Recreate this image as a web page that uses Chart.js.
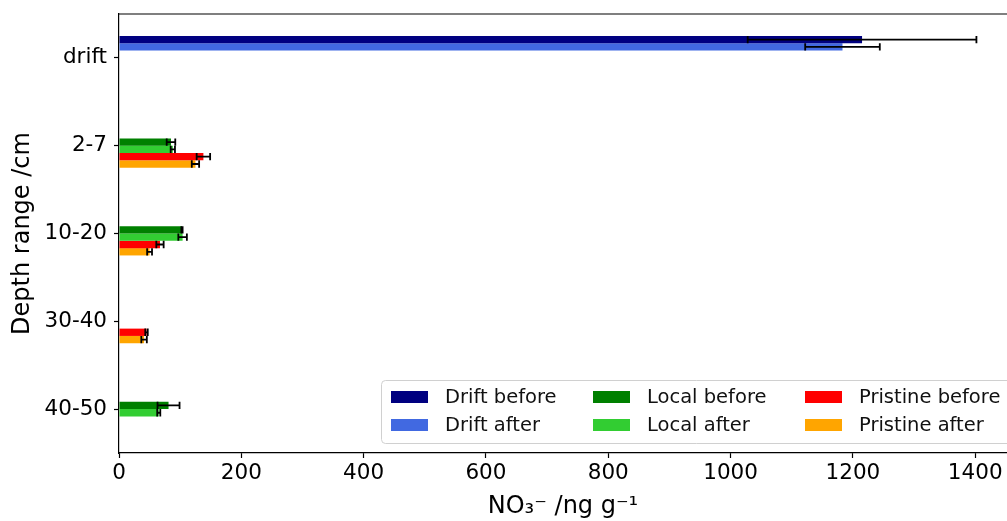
<!DOCTYPE html>
<html>
<head>
<meta charset="utf-8">
<script src="https://cdn.jsdelivr.net/npm/chart.js@4"></script>
<style>
  html, body { margin: 0; padding: 0; background: #fff; }
  #wrap { width: 1007px; height: 521px; position: relative; }
</style>
</head>
<body>
<div id="wrap"><canvas id="chart"></canvas></div>
<script>
// categorias (profundidade)
const categories = ['drift', '2-7', '10-20', '30-40', '40-50'];

// series (médias) e erros
const driftBefore = [1215, null, null, null, null];
const driftAfter = [1183, null, null, null, null];
const localBefore = [null, 85, 103, null, 81];
const localAfter = [null, 88, 104, null, 65];
const pristineBefore = [null, 138, 67, 45, null];
const pristineAfter = [null, 125, 50, 41, null];

const driftBeforeErr = [187, null, null, null, null];
const driftAfterErr = [61, null, null, null, null];
const localBeforeErr = [null, 7, 1, null, 18];
const localAfterErr = [null, 3.5, 7, null, 2.5];
const pristineBeforeErr = [null, 11, 6, 2, null];
const pristineAfterErr = [null, 6, 4, 4.5, null];

const xTicks = [0, 200, 400, 600, 800, 1000, 1200, 1400];

const FONT = "'DejaVu Sans', sans-serif";

const series = [
    { label: 'Drift before', data: driftBefore, err: driftBeforeErr, color: '#000080' },
    { label: 'Drift after', data: driftAfter, err: driftAfterErr, color: '#4169e1' },
    { label: 'Local before', data: localBefore, err: localBeforeErr, color: '#008000' },
    { label: 'Local after', data: localAfter, err: localAfterErr, color: '#32cd32' },
    { label: 'Pristine before', data: pristineBefore, err: pristineBeforeErr, color: '#ff0000' },
    { label: 'Pristine after', data: pristineAfter, err: pristineAfterErr, color: '#ffa500' }
];

// barras de erro + spine de cima + legenda em 3 colunas
const extras = {
    id: 'extras',
    afterDatasetsDraw(chart) {
        const ctx = chart.ctx;
        const xs = chart.scales.x;
        ctx.save();
        ctx.strokeStyle = '#000';
        ctx.lineWidth = 1.8;
        series.forEach((s, i) => {
            const meta = chart.getDatasetMeta(i);
            meta.data.forEach((bar, j) => {
                const v = s.data[j];
                const e = s.err[j];
                if (v == null || e == null) return;
                const y = bar.y;
                const half = bar.height / 2;
                const x1 = xs.getPixelForValue(v - e);
                const x2 = xs.getPixelForValue(v + e);
                ctx.beginPath();
                ctx.moveTo(x1, y); ctx.lineTo(x2, y);
                ctx.moveTo(x1, y - half); ctx.lineTo(x1, y + half);
                ctx.moveTo(x2, y - half); ctx.lineTo(x2, y + half);
                ctx.stroke();
            });
        });
        ctx.restore();
    },
    afterDraw(chart) {
        const ctx = chart.ctx;
        const area = chart.chartArea;
        ctx.save();
        // spine de cima
        ctx.strokeStyle = '#000';
        ctx.lineWidth = 1.2;
        ctx.beginPath();
        ctx.moveTo(area.left, area.top);
        ctx.lineTo(area.right, area.top);
        ctx.stroke();

        // legenda (ordem por colunas como no matplotlib)
        const bx = 381.5, by = 380.5, bw = 640, bh = 63;
        ctx.fillStyle = 'rgba(255,255,255,0.85)';
        ctx.strokeStyle = '#d0d0d0';
        ctx.lineWidth = 1;
        ctx.beginPath();
        ctx.roundRect(bx, by, bw, bh, 4);
        ctx.fill();
        ctx.stroke();

        const colX = [391, 593, 805];
        const rowY = [397, 425];
        ctx.font = '19.5px ' + FONT;
        ctx.textBaseline = 'middle';
        series.forEach((s, i) => {
            const col = Math.floor(i / 2);
            const row = i % 2;
            const x = colX[col];
            const y = rowY[row];
            ctx.fillStyle = s.color;
            ctx.fillRect(x, y - 6, 37, 12);
            ctx.fillStyle = '#111';
            ctx.fillText(s.label, x + 54, y + 1);
        });
        ctx.restore();
    }
};

new Chart(document.getElementById('chart'), {
    type: 'bar',
    data: {
        labels: categories,
        datasets: series.map(s => ({
            label: s.label,
            data: s.data,
            backgroundColor: s.color,
            borderWidth: 0,
            categoryPercentage: 0.5,
            barPercentage: 1.0
        }))
    },
    options: {
        indexAxis: 'y',
        responsive: true,
        maintainAspectRatio: false,
        animation: false,
        layout: { padding: { top: 14, right: 0, left: 0, bottom: 0 } },
        plugins: {
            legend: { display: false },
            tooltip: { enabled: false }
        },
        scales: {
            x: {
                min: 0,
                max: 1452,
                afterBuildTicks: axis => {
                    axis.ticks = xTicks.map(v => ({ value: v }));
                },
                afterFit: axis => {
                    axis.height = 68;
                    axis.paddingLeft = 0;
                    axis.paddingRight = 0;
                },
                grid: { drawOnChartArea: false, color: '#000', tickLength: 5, tickWidth: 1.2 },
                border: { color: '#000', width: 1.2 },
                ticks: {
                    color: '#000',
                    font: { family: FONT, size: 21.5 },
                    padding: 3,
                    maxRotation: 0,
                    callback: v => String(v)
                },
                title: {
                    display: true,
                    text: 'NO₃⁻ /ng g⁻¹',
                    color: '#000',
                    font: { family: FONT, size: 24 },
                    padding: { top: 0, bottom: 0 }
                }
            },
            y: {
                afterFit: axis => {
                    axis.width = 119;
                    axis.paddingTop = 0;
                    axis.paddingBottom = 0;
                },
                grid: { offset: false, drawOnChartArea: false, color: '#000', tickLength: 5, tickWidth: 1.2 },
                border: { color: '#000', width: 1.2 },
                ticks: { color: '#000', font: { family: FONT, size: 21.5 }, padding: 7 },
                title: {
                    display: true,
                    text: 'Depth range /cm',
                    color: '#000',
                    font: { family: FONT, size: 24 },
                    padding: { top: 8, bottom: 0 }
                }
            }
        }
    },
    plugins: [extras]
});
</script>
</body>
</html>
